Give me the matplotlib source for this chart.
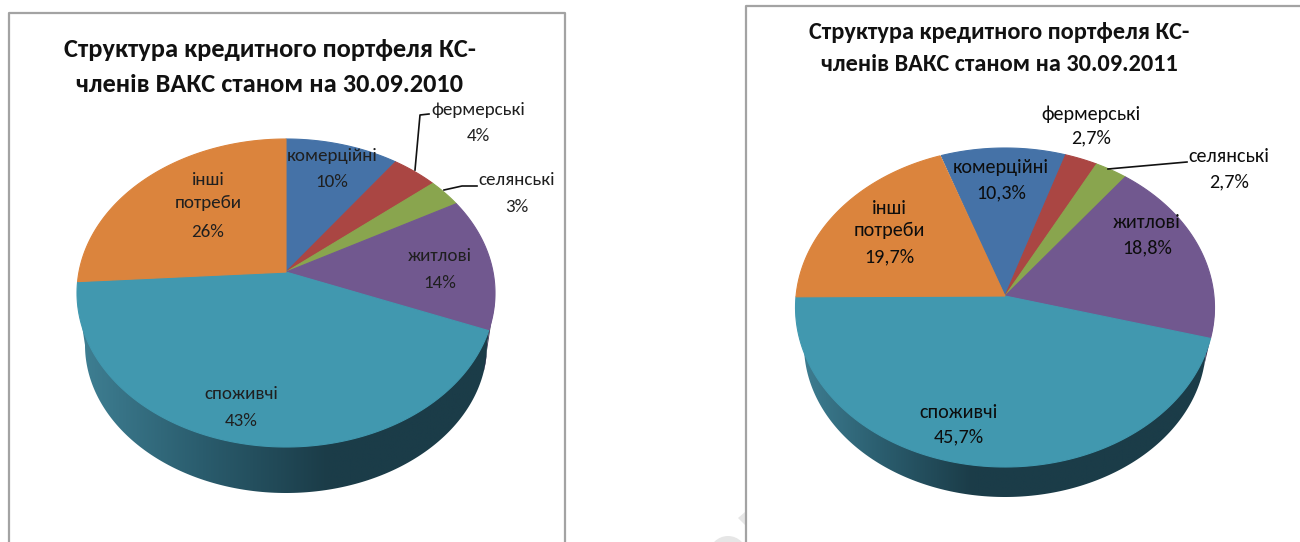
#!/usr/bin/env python3
"""Two 3D-looking pie charts: credit portfolio structure 2010 and 2011"""

import numpy as np
import matplotlib
matplotlib.use('Agg')
import matplotlib.pyplot as plt
from matplotlib.colors import LinearSegmentedColormap
from matplotlib.patches import Circle, Polygon

plt.rcParams['font.family'] = ['Carlito', 'Lato', 'Noto Sans', 'DejaVu Sans']

# Data
categories = ['комерційні', 'фермерські', 'селянські', 'житлові', 'споживчі', 'інші\nпотреби']
values_2010 = [10, 4, 3, 14, 43, 26]
values_2011 = [10.3, 2.7, 2.7, 18.8, 45.7, 19.7]
labels_2010 = ['10%', '4%', '3%', '14%', '43%', '26%']
labels_2011 = ['10,3%', '2,7%', '2,7%', '18,8%', '45,7%', '19,7%']
title_2010 = 'Структура кредитного портфеля КС-\nчленів ВАКС станом на 30.09.2010'
title_2011 = 'Структура кредитного портфеля КС-\nчленів ВАКС станом на 30.09.2011'

COLORS = ['#4572A7', '#AA4643', '#89A54E', '#71588F', '#4198AF', '#DB843D']
FRAME = '#a3a3a3'


def side_cmap(dark_at):
    stops = [(0.0, '#3f8094'), (dark_at * 0.5, '#2a5c6d'), (dark_at, '#1b3c48'), (1.0, '#1b3c48')]
    return LinearSegmentedColormap.from_list('side', stops)


def project(theta, cx, cy, rx, ry, tilt):
    """Map angles (clockwise from top) on a flat disc to the tilted ellipse"""
    u = np.sin(theta)
    v = np.cos(theta)
    d = 1 + tilt * v
    return cx + rx * u * np.sqrt(1 - tilt ** 2) / d, cy - ry * (v + tilt) / d


def draw_pie(ax, values, start, top, bottom, dark_at):
    cx, cy, rx, ry, tilt = top
    rx2, cy2, ry2 = bottom
    angles = np.radians(start + np.cumsum([0] + list(values)) * 3.6)

    # side wall, gradient clipped to the visible band
    t = np.linspace(0, np.pi, 200)
    wall = [(cx + rx, cy)]
    wall += list(zip(cx + rx2 * np.cos(t), cy2 + ry2 * np.sin(t)))
    wall += [(cx - rx, cy)]
    patch = Polygon(wall, closed=True, fc='none', ec='none')
    ax.add_patch(patch)
    grad = np.linspace(0, 1, 256).reshape(1, -1)
    im = ax.imshow(grad, cmap=side_cmap(dark_at), aspect='auto', zorder=1,
                   extent=[cx - rx, cx + rx, cy2 + ry2, cy])
    im.set_clip_path(patch)

    # the dark end of the housing slice shows on the far right
    px, py = project(angles[4], cx, cy, rx, ry, tilt)
    q = np.linspace(np.arctan2(py - cy, px - cx), 0, 30)
    arc = list(zip(cx + rx * np.cos(q), cy + ry * np.sin(q)))
    low = list(zip(cx + rx2 * np.cos(q[::-1]), cy2 + ry2 * np.sin(q[::-1])))
    ax.add_patch(Polygon(arc + low, closed=True, fc='#33274a', ec='none', zorder=1.5))

    # top surface
    apex_y = cy - ry * tilt
    for i, color in enumerate(COLORS):
        th = np.linspace(angles[i], angles[i + 1], 120)
        x, y = project(th, cx, cy, rx, ry, tilt)
        pts = [(cx, apex_y)] + list(zip(x, y))
        ax.add_patch(Polygon(pts, closed=True, fc=color, ec=color, lw=0.8, zorder=2))


def draw_labels(ax, names, labels, positions, size, color, spacing):
    for name, label, (x, y, y2) in zip(names, labels, positions):
        ax.text(x, y, name, ha='center', va='center', fontsize=size, color=color,
                linespacing=spacing, zorder=4)
        ax.text(x, y2, label, ha='center', va='center', fontsize=size, color=color, zorder=4)


fig = plt.figure(figsize=(13, 5.42), dpi=100)
ax = fig.add_axes([0, 0, 1, 1])
ax.set_xlim(0, 1300)
ax.set_ylim(542, 0)
ax.axis('off')

# watermark fragments behind the frames
ax.add_patch(Circle((728, 555), 19, fc='#e6e6e6', ec='none', zorder=0))
ax.add_patch(Polygon([(738, 518), (745, 512), (745, 525)], closed=True, fc='#e6e6e6', ec='none', zorder=0))

# frames
ax.plot([9, 9, 565, 565], [542, 13, 13, 542], color=FRAME, lw=1.6, zorder=0.5)
ax.plot([746, 746, 1300], [542, 6, 6], color=FRAME, lw=1.6, zorder=0.5)

draw_pie(ax, values_2010, 0, (286, 293, 209, 154, 0.136), (201, 345, 148), 0.6)
draw_pie(ax, values_2011, -19, (1005, 307.5, 209.5, 159.5, 0.072), (201, 345, 152), 0.42)

# titles
ax.text(270, 67, title_2010, ha='center', va='center', fontsize=19, fontweight='bold',
        color='#111111', linespacing=1.64)
ax.text(999, 48.5, title_2011, ha='center', va='center', fontsize=17.5, fontweight='bold',
        color='#111111', linespacing=1.6)

# labels: x, y of name, y of value
draw_labels(ax, categories, labels_2010,
            [(332, 156, 182), (478, 110, 136), (517, 180, 207),
             (440, 256, 283), (241, 394, 421), (208, 191.5, 232)], 13.7, '#1f1f1f', 1.55)
draw_labels(ax, categories, labels_2011,
            [(1001, 167, 193), (1091, 114, 138), (1229, 157, 182),
             (1147, 223, 248), (959, 413, 437), (889, 219.5, 257)], 14.5, '#0d0d0d', 1.35)

# leader lines
ax.plot([415, 420, 429], [170, 115, 114], color='#111111', lw=1.2, zorder=3)
ax.plot([444, 462, 477], [190, 186, 186], color='#111111', lw=1.2, zorder=3)
ax.plot([1108, 1187], [169, 162], color='#111111', lw=1.2, zorder=3)

fig.savefig('out.png', dpi=100, facecolor='white')
plt.close(fig)
